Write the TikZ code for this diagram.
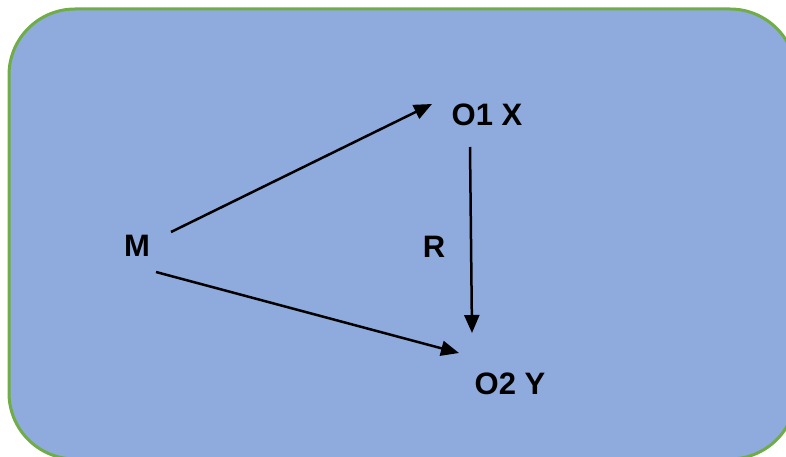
\documentclass[tikz,border=0pt]{standalone}
\usepackage{fontspec}
\setmainfont{Liberation Sans}
\usetikzlibrary{arrows.meta}
\definecolor{boxfill}{RGB}{143,170,220}
\definecolor{boxline}{RGB}{112,173,71}
\begin{document}
\begin{tikzpicture}[x=1pt,y=-1pt,
  lbl/.style={font=\fontsize{31}{34}\selectfont\bfseries, inner sep=0pt, anchor=center},
  arr/.style={draw=black, line width=2.5pt, -{Triangle[length=18pt,width=15pt]}}]
\useasboundingbox (0,0) rectangle (786,457);
\clip (0,0) rectangle (786,457);
\draw[fill=boxfill, draw=boxline, line width=3pt, rounded corners=66pt] (9,9) rectangle (796,459);
\node[lbl] (o1) at (487,115) {O1 X};
\node[lbl] (m) at (137,246) {M};
\node[lbl] (r) at (434,247) {R};
\node[lbl] (o2) at (510,384) {O2 Y};
\coordinate (ma) at (171,232);
\coordinate (mb) at (156,272);
\coordinate (o1in) at (432,104);
\coordinate (o1out) at (470,147);
\coordinate (o2a) at (459,353);
\coordinate (o2b) at (472,333);
\draw[arr] (ma) -- (o1in);
\draw[arr] (mb) -- (o2a);
\draw[arr] (o1out) -- (o2b);
\end{tikzpicture}
\end{document}
